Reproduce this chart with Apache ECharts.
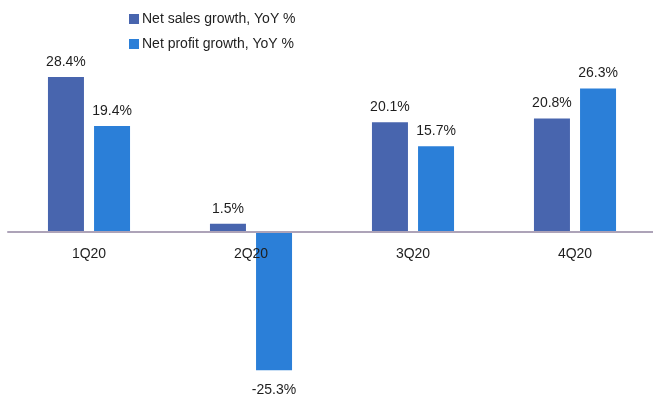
<!DOCTYPE html>
<html>
<head>
<meta charset="utf-8">
<script src="https://cdn.jsdelivr.net/npm/echarts@6/dist/echarts.min.js"></script>
<style>
  html, body { margin: 0; padding: 0; background: #fff; }
  #chart { width: 653px; height: 399px; }
</style>
</head>
<body>
<div id="chart"></div>
<script>
// Quarterly growth rates, % year on year
const quarters = ['1Q20', '2Q20', '3Q20', '4Q20'];
const netSalesGrowth = [28.4, 1.5, 20.1, 20.8];
const netProfitGrowth = [19.4, -25.3, 15.7, 26.3];
const seriesNames = ['Net sales growth, YoY %', 'Net profit growth, YoY %'];

const FONT = '"Liberation Sans", Arial, sans-serif';
const TEXT = '#1e1e1e';

// Value axis range; the category axis is lifted to sit on the zero line
const Y_MIN = -30;
const Y_MAX = 30;
const GRID_TOP = 68.2;
const GRID_HEIGHT = 327.6;
const zeroOffset = -GRID_HEIGHT * (0 - Y_MIN) / (Y_MAX - Y_MIN);

// Labels sit above positive bars and below negative ones
function withLabels(values) {
  return values.map(v => ({
    value: v,
    label: v < 0 ? { position: 'bottom', distance: 13 } : { position: 'top', distance: 8 }
  }));
}

function barSeries(name, values, color) {
  return {
    name: name,
    type: 'bar',
    barWidth: 36,
    barGap: '28%',
    itemStyle: { color: color },
    label: {
      show: true,
      fontFamily: FONT,
      fontSize: 14,
      color: TEXT,
      formatter: p => p.value.toFixed(1) + '%'
    },
    data: withLabels(values)
  };
}

const chart = echarts.init(document.getElementById('chart'), null, { renderer: 'canvas' });
chart.setOption({
  animation: false,
  backgroundColor: '#ffffff',
  legend: {
    orient: 'vertical',
    left: 124,
    top: 7,
    itemWidth: 10,
    itemHeight: 10,
    itemGap: 11,
    icon: 'rect',
    textStyle: { fontFamily: FONT, fontSize: 14, color: TEXT, padding: [0, 0, 0, -2] },
    data: seriesNames
  },
  grid: {
    left: 8, top: GRID_TOP, width: 648, height: GRID_HEIGHT,
    containLabel: false,
    outerBoundsMode: 'none'
  },
  xAxis: {
    type: 'category',
    position: 'bottom',
    offset: zeroOffset,
    data: quarters,
    axisLine: { onZero: false, lineStyle: { color: '#ada3b8', width: 2 } },
    axisTick: { show: false },
    axisLabel: { fontFamily: FONT, fontSize: 14, color: TEXT, margin: 15 },
    z: 10
  },
  yAxis: {
    type: 'value',
    min: Y_MIN,
    max: Y_MAX,
    show: false,
    splitLine: { show: false }
  },
  series: [
    barSeries(seriesNames[0], netSalesGrowth, '#4865ae'),
    barSeries(seriesNames[1], netProfitGrowth, '#2b7fd8')
  ]
});
</script>
</body>
</html>
